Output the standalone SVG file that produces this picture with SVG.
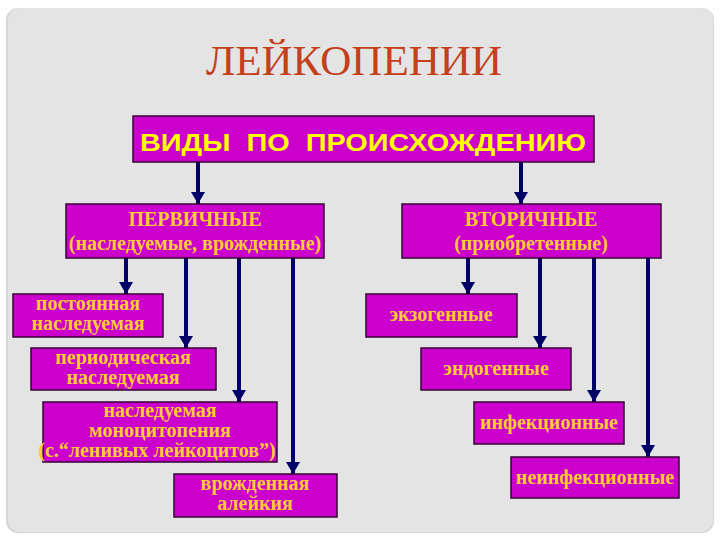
<svg xmlns="http://www.w3.org/2000/svg" width="720" height="540" viewBox="0 0 720 540">
<defs>
<marker id="ah" markerUnits="userSpaceOnUse" markerWidth="14" markerHeight="14" refX="12" refY="7" orient="auto">
<path d="M0,0 L12,7 L0,14 z" fill="#000066"/>
</marker>
<style>
.box{fill:#cc00cc;stroke:#330033;stroke-width:1.5}
.t{font-family:"Liberation Serif","Times New Roman",serif;font-weight:bold;font-size:20px;fill:#ffcc33;text-anchor:middle}
.c{stroke:#000066;stroke-width:4;fill:none;marker-end:url(#ah)}
</style>
</defs>
<rect x="0" y="0" width="720" height="540" fill="#ffffff"/>
<rect x="6" y="8" width="708" height="525" rx="12" fill="#d6d6d6"/>
<rect x="8" y="8" width="705" height="524" rx="12" fill="#e4e4e4"/>
<text x="354" y="75" font-family="'Liberation Serif','Times New Roman',serif" font-size="42" fill="#c4401c" text-anchor="middle" textLength="296" lengthAdjust="spacingAndGlyphs">ЛЕЙКОПЕНИИ</text>
<g id="connectors">
<line class="c" x1="198" y1="162" x2="198" y2="204"/>
<line class="c" x1="521" y1="162" x2="521" y2="204"/>
<line class="c" x1="126" y1="258" x2="126" y2="294"/>
<line class="c" x1="186" y1="258" x2="186" y2="348"/>
<line class="c" x1="239" y1="258" x2="239" y2="402"/>
<line class="c" x1="293" y1="258" x2="293" y2="474"/>
<line class="c" x1="468" y1="258" x2="468" y2="294"/>
<line class="c" x1="540" y1="258" x2="540" y2="348"/>
<line class="c" x1="594" y1="258" x2="594" y2="402"/>
<line class="c" x1="648" y1="258" x2="648" y2="457"/>
</g>
<g id="root">
<rect class="box" x="133" y="116" width="461" height="46"/>
<text x="363" y="151" font-family="'Liberation Sans',Arial,sans-serif" font-weight="bold" font-size="24" fill="#ffff00" text-anchor="middle" xml:space="preserve" textLength="446" lengthAdjust="spacingAndGlyphs">ВИДЫ  ПО  ПРОИСХОЖДЕНИЮ</text>
</g>
<g id="primary">
<rect class="box" x="66" y="204" width="258" height="54"/>
<text class="t" x="195" y="226">ПЕРВИЧНЫЕ</text>
<text class="t" x="195" y="250">(наследуемые, врожденные)</text>
</g>
<g id="secondary">
<rect class="box" x="402" y="204" width="259" height="54"/>
<text class="t" x="531" y="226">ВТОРИЧНЫЕ</text>
<text class="t" x="531" y="250">(приобретенные)</text>
</g>
<g id="p1">
<rect class="box" x="13" y="294" width="150" height="43"/>
<text class="t" x="88" y="310">постоянная</text>
<text class="t" x="88" y="330">наследуемая</text>
</g>
<g id="p2">
<rect class="box" x="31" y="348" width="185" height="42"/>
<text class="t" x="123" y="364">периодическая</text>
<text class="t" x="123" y="384">наследуемая</text>
</g>
<g id="p3">
<rect class="box" x="43" y="402" width="234" height="60"/>
<text class="t" x="160" y="417">наследуемая</text>
<text class="t" x="160" y="437">моноцитопения</text>
<text class="t" x="157" y="457">(с.“ленивых лейкоцитов”)</text>
</g>
<g id="p4">
<rect class="box" x="174" y="474" width="163" height="43"/>
<text class="t" x="255" y="490">врожденная</text>
<text class="t" x="255" y="510">алейкия</text>
</g>
<g id="s1">
<rect class="box" x="366" y="294" width="151" height="43"/>
<text class="t" x="441" y="321">экзогенные</text>
</g>
<g id="s2">
<rect class="box" x="421" y="348" width="150" height="42"/>
<text class="t" x="496" y="375">эндогенные</text>
</g>
<g id="s3">
<rect class="box" x="474" y="402" width="150" height="42"/>
<text class="t" x="549" y="429">инфекционные</text>
</g>
<g id="s4">
<rect class="box" x="511" y="457" width="168" height="41"/>
<text class="t" x="595" y="484">неинфекционные</text>
</g>
</svg>
